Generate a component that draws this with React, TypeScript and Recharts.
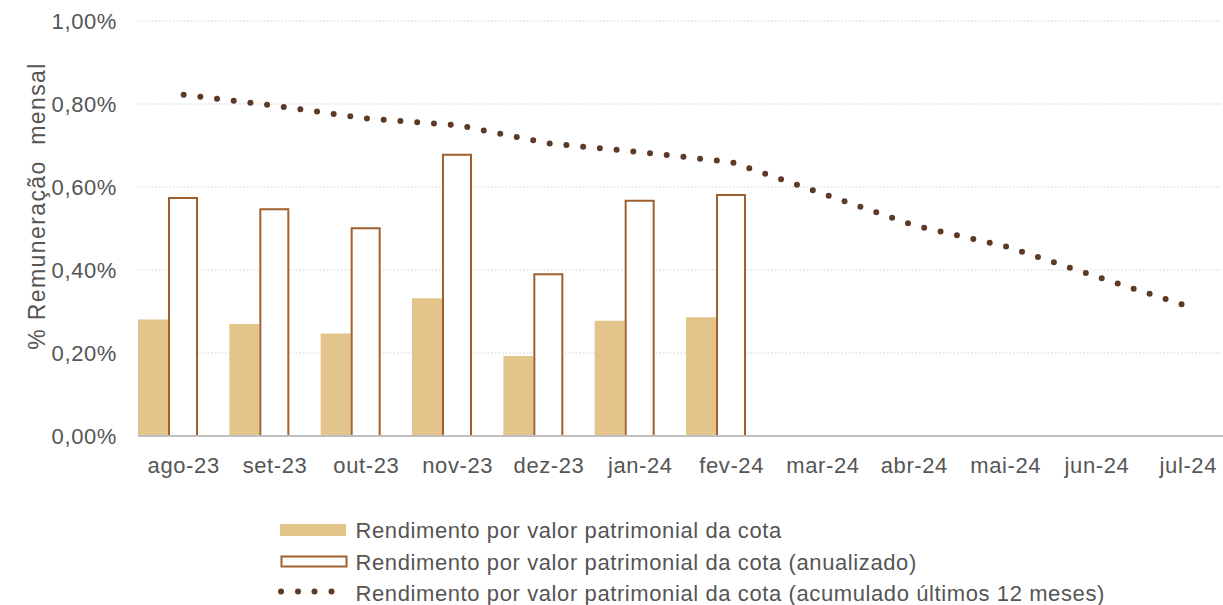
import React from 'react';
import { ComposedChart, Bar, Line, XAxis, YAxis, CartesianGrid } from 'recharts';

const months = ['ago-23', 'set-23', 'out-23', 'nov-23', 'dez-23', 'jan-24', 'fev-24', 'mar-24', 'abr-24', 'mai-24', 'jun-24', 'jul-24'];
const rendimento: (number | null)[] = [0.281, 0.270, 0.247, 0.332, 0.193, 0.278, 0.286, null, null, null, null, null];
const anualizado: (number | null)[] = [0.576, 0.549, 0.503, 0.680, 0.392, 0.569, 0.583, null, null, null, null, null];
const acumulado: number[] = [0.822, 0.796, 0.765, 0.749, 0.705, 0.684, 0.660, 0.584, 0.507, 0.457, 0.384, 0.312];
const yTicks = [0, 0.2, 0.4, 0.6, 0.8, 1.0];

const legendLabels = [
  'Rendimento por valor patrimonial da cota',
  'Rendimento por valor patrimonial da cota (anualizado)',
  'Rendimento por valor patrimonial da cota (acumulado últimos 12 meses)',
];

const data = months.map((m, i) => ({
  mes: m,
  rendimento: rendimento[i],
  anualizado: anualizado[i],
  acumulado: acumulado[i],
}));

const FONT = '"Liberation Sans", Arial, sans-serif';
const TXT = '#555555';
const BEIGE = '#E3C48A';
const BROWN = '#A0602F';
const DARK = '#5B3B25';

const fmt = (v: number) => v.toFixed(2).replace('.', ',') + '%';

const YTick = (props: any) => {
  const { y, payload } = props;
  return (
    <text x={117} y={y + 8} textAnchor="end" fill={TXT} fontSize={22} fontFamily={FONT} letterSpacing={0.6}>
      {fmt(payload.value)}
    </text>
  );
};

const XTick = (props: any) => {
  const { x, payload } = props;
  return (
    <text x={x} y={473} textAnchor="middle" fill={TXT} fontSize={22} fontFamily={FONT} letterSpacing={0.6}>
      {payload.value}
    </text>
  );
};

const OpenBar = (props: any) => {
  const { x, y, width, height } = props;
  if (height == null || height <= 0) return null;
  const l = x + 1;
  const r = x + width - 1;
  return (
    <path d={`M${l},${y + height} L${l},${y + 1} L${r},${y + 1} L${r},${y + height}`} fill="#fff" stroke={BROWN} strokeWidth={2} />
  );
};

export default function App() {
  return (
    <div style={{ position: 'fixed', left: 0, top: 0, width: 1223, height: 605, overflow: 'hidden', background: '#fff' }}>
      <ComposedChart
        width={1240}
        height={605}
        data={data}
        margin={{ top: 21, right: 6, bottom: 0, left: 0 }}
        barCategoryGap={0}
        barGap={0}
      >
        <CartesianGrid vertical={false} stroke="#D0D0D0" strokeDasharray="1.5 2" />
        <XAxis
          dataKey="mes"
          height={169}
          tick={<XTick />}
          tickLine={false}
          axisLine={{ stroke: '#BFBFBF', strokeWidth: 2 }}
          interval={0}
        />
        <YAxis
          width={138}
          domain={[0, 1]}
          ticks={yTicks}
          tick={<YTick />}
          tickLine={false}
          axisLine={false}
          allowDataOverflow
        />
        <Bar dataKey="rendimento" fill={BEIGE} isAnimationActive={false} />
        <Bar dataKey="anualizado" shape={<OpenBar />} isAnimationActive={false} />
        <Bar dataKey="espaco" fill="none" isAnimationActive={false} legendType="none" />
        <Line
          type="linear"
          dataKey="acumulado"
          stroke={DARK}
          strokeWidth={6}
          strokeDasharray="0 16.8"
          strokeLinecap="round"
          dot={false}
          activeDot={false}
          isAnimationActive={false}
        />
        <text
          x={37}
          y={206}
          transform="rotate(-90 37 206)"
          textAnchor="middle"
          dominantBaseline="central"
          fill={TXT}
          fontSize={23}
          fontFamily={FONT}
          letterSpacing={1.4}
          style={{ whiteSpace: 'pre' }}
        >
          {'% Remuneração  mensal'}
        </text>
      </ComposedChart>
      <svg width={1223} height={605} style={{ position: 'absolute', left: 0, top: 0, pointerEvents: 'none' }}>
        <rect x={280} y={524} width={66} height={12} fill={BEIGE} />
        <rect x={281.5} y={556.5} width={65} height={10} fill="#fff" stroke={BROWN} strokeWidth={2} />
        {[281, 298, 314.5, 331.5].map((cx) => (
          <circle key={cx} cx={cx} cy={591.5} r={3} fill={DARK} />
        ))}
        {legendLabels.map((t, i) => (
          <text key={t} x={355.5} y={[538.3, 569.8, 600.5][i]} fill={TXT} fontSize={22} fontFamily={FONT} letterSpacing={0.6}>
            {t}
          </text>
        ))}
      </svg>
    </div>
  );
}
